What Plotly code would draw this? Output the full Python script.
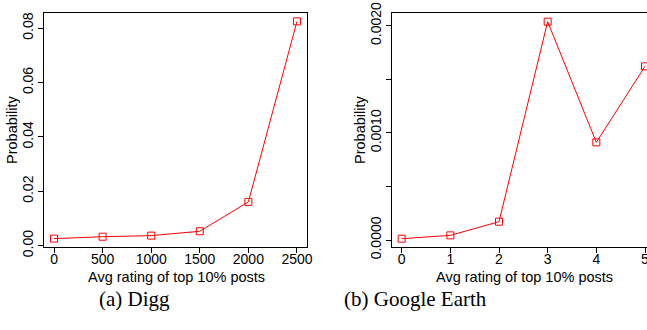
import plotly.graph_objects as go

digg_x = [0, 500, 1000, 1500, 2000, 2500]
digg_y = [0.0026, 0.0033, 0.0037, 0.0053, 0.0161, 0.0825]
digg_xticks = [0, 500, 1000, 1500, 2000, 2500]
digg_yticks = [0.00, 0.02, 0.04, 0.06, 0.08]
digg_yticktext = ["0.00", "0.02", "0.04", "0.06", "0.08"]

ge_x = [0, 1, 2, 3, 4, 5]
ge_y = [0.0000124, 0.0000435, 0.000171, 0.002037, 0.000911, 0.00162]
ge_xticks = [0, 1, 2, 3, 4, 5]
ge_yticks = [0.0, 0.0005, 0.0010, 0.0015, 0.0020]
ge_yticktext = ["0.0000", "", "0.0010", "", "0.0020"]

xlabel = "Avg rating of top 10% posts"
ylabel = "Probability"
captions = ["(a) Digg", "(b) Google Earth"]

RED = "#ff0000"
SANS = "Liberation Sans, Arial, sans-serif"
SERIF = "Liberation Serif, DejaVu Serif, serif"

fig = go.Figure()
mk = dict(symbol="square-open", size=7, color=RED, line=dict(width=1, color=RED))
fig.add_trace(go.Scatter(x=digg_x, y=digg_y, mode="lines+markers",
                         line=dict(color=RED, width=1), marker=mk,
                         xaxis="x", yaxis="y", cliponaxis=False, showlegend=False))
fig.add_trace(go.Scatter(x=ge_x, y=ge_y, mode="lines+markers",
                         line=dict(color=RED, width=1), marker=mk,
                         xaxis="x2", yaxis="y2", cliponaxis=False, showlegend=False))

axcommon = dict(showgrid=False, zeroline=False, showline=True, linecolor="black",
                linewidth=1, ticks="outside", ticklen=5, tickwidth=1, tickcolor="black",
                automargin=False, ticklabeloverflow="allow",
                tickfont=dict(family=SANS, size=14, color="black"))

fig.update_layout(
    width=647, height=330, autosize=False,
    margin=dict(l=0, r=0, t=0, b=0, pad=0, autoexpand=False),
    paper_bgcolor="white", plot_bgcolor="white",
    xaxis=dict(domain=[0.0685, 0.474], range=[-100, 2600], tickvals=digg_xticks,
               mirror=True, anchor="y", ticklabelstandoff=-6, **axcommon),
    yaxis=dict(domain=[0.2506, 0.9615], range=[-0.0006, 0.0857], tickvals=digg_yticks,
               ticktext=digg_yticktext, tickangle=-90, mirror=True, anchor="x", **axcommon),
    xaxis2=dict(domain=[0.6063, 1.0], range=[-0.193, 5.041], tickvals=ge_xticks,
                mirror=True, anchor="y2", ticklabelstandoff=-6, **axcommon),
    yaxis2=dict(domain=[0.2506, 0.9597], range=[-0.000068, 0.002115], tickvals=ge_yticks,
                ticktext=ge_yticktext, tickangle=-90, mirror=False, anchor="x2", **axcommon),
)

ann = []
for xc in [176, 524]:
    ann.append(dict(text=xlabel, x=xc / 647, y=1 - 277 / 330, xref="paper", yref="paper",
                    xanchor="center", yanchor="middle", showarrow=False,
                    font=dict(family=SANS, size=14.5, color="black")))
for xc in [12, 360]:
    ann.append(dict(text=ylabel, x=xc / 647, y=1 - 130 / 330, xref="paper", yref="paper",
                    xanchor="center", yanchor="middle", showarrow=False, textangle=-90,
                    font=dict(family=SANS, size=14.5, color="black")))
for xc, cap in zip([134, 415], captions):
    ann.append(dict(text=cap, x=xc / 647, y=1 - 299 / 330, xref="paper", yref="paper",
                    xanchor="center", yanchor="middle", showarrow=False,
                    font=dict(family=SERIF, size=21, color="black")))
fig.update_layout(annotations=ann)

fig.write_html("out.html", config={"responsive": False, "displayModeBar": False},
               post_script="document.body.style.margin='0';document.body.style.overflow='hidden';")
